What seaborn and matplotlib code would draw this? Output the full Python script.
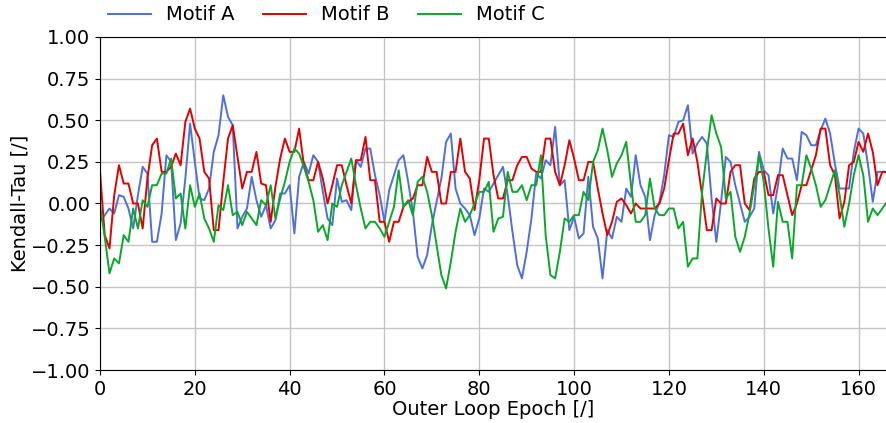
import pandas as pd
import numpy as np
import matplotlib
matplotlib.use("Agg")
import matplotlib.pyplot as plt
import seaborn as sns

# Kendall-Tau per outer loop epoch
motif_a = [
    -0.11, -0.07, -0.03, -0.06, 0.05, 0.04, -0.03, -0.15, 0.05, 0.22,
    0.18, -0.23, -0.23, -0.06, 0.29, 0.25, -0.22, -0.12, 0.15, 0.48,
    0.25, 0.03, 0.02, 0.09, 0.31, 0.41, 0.65, 0.52, 0.47, -0.15,
    -0.08, -0.03, 0.16, 0.02, -0.08, -0.01, -0.15, -0.10, 0.06, 0.06,
    0.11, -0.18, 0.16, 0.25, 0.18, 0.29, 0.25, 0.07, -0.09, -0.13,
    0.15, 0.01, 0.02, -0.04, 0.26, 0.22, 0.33, 0.33, 0.17, 0.05,
    -0.11, 0.08, 0.17, 0.26, 0.29, 0.13, -0.05, -0.32, -0.39, -0.31,
    -0.13, 0.01, 0.15, 0.37, 0.42, 0.09, 0.00, -0.03, -0.07, -0.19,
    -0.09, 0.09, 0.07, 0.12, 0.17, 0.22, 0.05, -0.17, -0.37, -0.45,
    -0.29, -0.09, 0.18, 0.15, 0.26, 0.23, 0.46, 0.11, 0.14, -0.16,
    -0.08, -0.21, -0.18, 0.16, -0.14, -0.21, -0.45, -0.16, -0.21, -0.08,
    -0.11, 0.09, 0.04, 0.29, 0.11, 0.04, -0.22, -0.07, 0.01, 0.17,
    0.41, 0.40, 0.49, 0.50, 0.59, 0.30, 0.36, 0.40, 0.36, 0.03,
    -0.23, 0.01, 0.28, 0.25, 0.11, 0.00, -0.11, -0.08, -0.03, 0.31,
    0.20, 0.17, -0.06, 0.11, 0.33, 0.27, 0.27, 0.14, 0.43, 0.41,
    0.35, 0.35, 0.44, 0.51, 0.42, 0.24, 0.09, 0.09, 0.09, 0.31,
    0.45, 0.42, 0.23, 0.01, 0.19, 0.19, 0.19,
]
motif_b = [
    0.19, -0.19, -0.27, 0.05, 0.23, 0.12, 0.12, 0.00, 0.00, -0.15,
    0.15, 0.35, 0.39, 0.19, 0.19, 0.22, 0.30, 0.23, 0.49, 0.57,
    0.45, 0.39, 0.19, 0.15, -0.16, -0.16, 0.13, 0.39, 0.47, 0.28,
    0.09, 0.19, 0.19, 0.31, 0.12, 0.11, -0.11, 0.10, 0.27, 0.39,
    0.31, 0.31, 0.45, 0.23, 0.14, 0.14, 0.25, 0.15, 0.00, 0.11,
    0.23, 0.23, 0.11, 0.00, 0.26, 0.26, 0.40, 0.14, 0.14, -0.11,
    -0.11, -0.23, -0.11, -0.11, -0.02, 0.01, 0.03, 0.11, 0.11, 0.28,
    0.19, 0.19, 0.00, 0.00, 0.19, 0.19, 0.39, 0.19, 0.15, -0.04,
    0.14, 0.39, 0.39, 0.17, 0.03, 0.03, 0.14, 0.14, 0.23, 0.28,
    0.28, 0.21, 0.19, 0.19, 0.39, 0.39, 0.19, 0.11, 0.23, 0.38,
    0.27, 0.14, 0.14, 0.25, 0.25, 0.09, -0.06, -0.19, -0.11, 0.01,
    0.03, -0.01, -0.06, 0.00, -0.03, -0.03, -0.03, -0.03, 0.00, 0.09,
    0.26, 0.42, 0.42, 0.48, 0.29, 0.39, 0.25, 0.05, -0.16, -0.16,
    0.03, 0.00, 0.00, 0.19, 0.23, 0.23, 0.00, -0.04, 0.15, 0.19,
    0.19, 0.05, 0.05, 0.17, 0.17, 0.05, -0.07, 0.00, 0.11, 0.11,
    0.20, 0.29, 0.45, 0.45, 0.23, 0.17, -0.09, 0.01, 0.23, 0.25,
    0.37, 0.31, 0.42, 0.31, 0.11, 0.19, 0.19,
]
motif_c = [
    -0.01, -0.20, -0.42, -0.33, -0.36, -0.19, -0.23, -0.03, -0.15, 0.02,
    -0.02, 0.11, 0.11, 0.18, 0.18, 0.27, 0.03, 0.06, -0.15, 0.11,
    -0.02, 0.06, -0.09, -0.15, -0.23, -0.01, -0.04, 0.11, -0.07, -0.05,
    -0.13, -0.05, -0.09, -0.13, 0.02, -0.01, 0.11, -0.09, 0.03, 0.13,
    0.25, 0.33, 0.30, 0.22, 0.13, 0.02, -0.17, -0.13, -0.22, 0.00,
    -0.02, 0.11, 0.19, 0.27, 0.11, -0.03, -0.15, -0.11, -0.11, -0.15,
    -0.20, -0.11, -0.02, 0.20, -0.02, 0.02, -0.07, 0.13, 0.16, 0.07,
    -0.07, -0.25, -0.43, -0.51, -0.35, -0.17, -0.03, -0.11, -0.07, 0.00,
    0.07, 0.07, 0.13, -0.17, -0.09, -0.08, 0.19, 0.07, 0.07, 0.11,
    0.02, 0.11, 0.11, 0.29, -0.19, -0.43, -0.45, -0.29, -0.09, -0.11,
    -0.07, -0.07, 0.07, 0.02, 0.25, 0.32, 0.45, 0.32, 0.16, 0.24,
    0.29, 0.37, 0.11, -0.11, -0.11, -0.07, 0.15, -0.03, -0.07, -0.07,
    -0.03, -0.03, -0.15, -0.11, -0.38, -0.33, -0.33, 0.07, 0.31, 0.53,
    0.42, 0.34, 0.03, 0.07, -0.20, -0.29, -0.20, -0.06, 0.11, 0.29,
    0.13, -0.15, -0.38, 0.01, -0.11, -0.11, -0.33, 0.11, 0.11, 0.29,
    0.21, 0.11, -0.02, 0.02, 0.11, 0.20, 0.05, -0.14, 0.00, 0.17,
    0.29, 0.17, -0.11, -0.03, -0.07, -0.03, 0.01,
]
labels = ["Motif A", "Motif B", "Motif C"]
colors = ["#4f6fdc", "#e30000", "#0aa82a"]

epochs = np.arange(len(motif_a))
df = pd.DataFrame({"epoch": epochs, labels[0]: motif_a, labels[1]: motif_b, labels[2]: motif_c})
long_df = df.melt(id_vars="epoch", var_name="motif", value_name="tau")

plt.rcParams["font.family"] = ["DejaVu Sans"]

fig = plt.figure(figsize=(8.87, 4.23), dpi=100)
ax = fig.add_axes([100 / 887, 1 - 370 / 423, 787 / 887, 333 / 423])

sns.lineplot(data=long_df, x="epoch", y="tau", hue="motif", palette=colors,
             linewidth=1.4, ax=ax)

ax.set_xlim(0, len(motif_a) - 1)
ax.set_ylim(-1, 1)
ax.set_yticks(np.arange(-1, 1.01, 0.25))
ax.grid(True, color="#c4c4c4", linewidth=1)
ax.set_axisbelow(True)
ax.tick_params(labelsize=14)
ax.set_xlabel("Outer Loop Epoch [/]", fontsize=14, labelpad=1)
ax.set_ylabel("Kendall-Tau [/]", fontsize=14, labelpad=1)
ax.spines["right"].set_visible(False)

ax.legend(loc="lower left", bbox_to_anchor=(-0.012, 0.985), ncol=3, frameon=False,
          fontsize=14, handlelength=2.2, columnspacing=1.45)

fig.savefig("out.png", dpi=100)
